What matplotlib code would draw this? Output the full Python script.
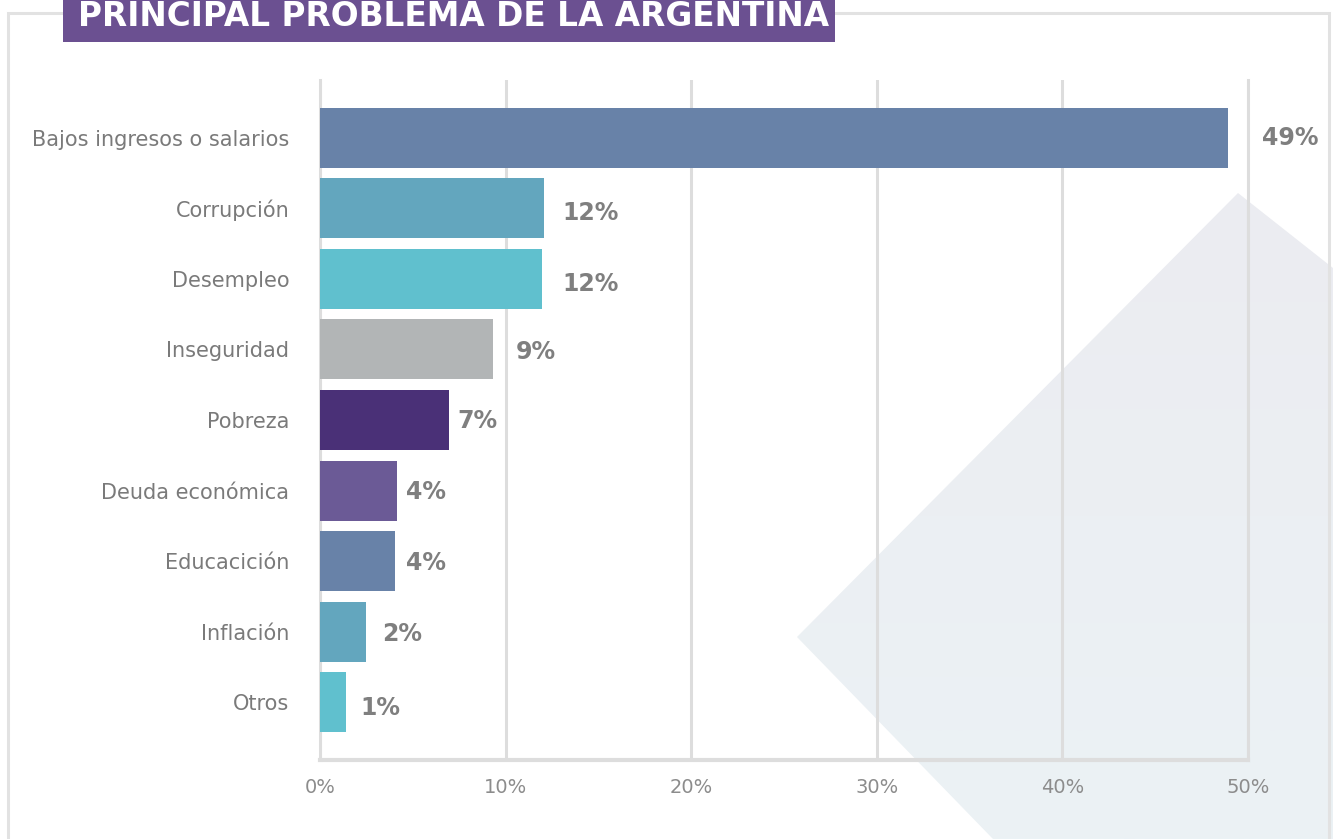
import matplotlib
matplotlib.use('Agg')
import matplotlib.pyplot as plt
import numpy as np
from matplotlib.colors import LinearSegmentedColormap
from matplotlib.patches import Polygon, Rectangle

plt.rcParams['font.family'] = ['DejaVu Sans']

# Data (percent of respondents)
categories = ['Bajos ingresos o salarios', 'Corrupción', 'Desempleo', 'Inseguridad',
              'Pobreza', 'Deuda económica', 'Educacición', 'Inflación', 'Otros']
values = [48.9, 12.05, 11.95, 9.3, 6.95, 4.15, 4.05, 2.5, 1.4]
value_labels = ['49%', '12%', '12%', '9%', '7%', '4%', '4%', '2%', '1%']
bar_colors = ['#6882A8', '#63A6BE', '#60C0CE', '#B2B5B6', '#4A3077',
              '#6B5A96', '#6882A8', '#63A6BE', '#60C0CE']
xticks = [0, 10, 20, 30, 40, 50]
xtick_labels = ['0%', '10%', '20%', '30%', '40%', '50%']

# label offsets from bar end (pixels) as in the original layout
label_dx = [34, 19, 21, 23, 8, 9, 11, 16, 14]
label_dy = [0, -5, -5, -3, -1, -1, -2, -2, -6]

W, H = 1333, 839
fig = plt.figure(figsize=(W / 100, H / 100), dpi=100)
fig.patch.set_facecolor('white')


def fx(px):
    return px / W


def fy(py):
    return 1 - py / H


# background diamond decoration with a soft vertical gradient
bg = fig.add_axes([0, 0, 1, 1], zorder=0)
bg.set_xlim(0, 1)
bg.set_ylim(0, 1)
bg.axis('off')
diamond = Polygon([(fx(797), fy(637)), (fx(1238), fy(193)), (fx(1333), fy(268)),
                   (fx(1333), fy(839)), (fx(993), fy(839))],
                  closed=True, facecolor='none', edgecolor='none')
bg.add_patch(diamond)
grad_cmap = LinearSegmentedColormap.from_list('bg', ['#EBF2F5', '#ECECF1'])
grad = bg.imshow(np.linspace(0, 1, 256).reshape(-1, 1), cmap=grad_cmap,
                 extent=[0, 1, 0, fy(193)], origin='lower', aspect='auto')
grad.set_clip_path(diamond)

# outer frame
frame = Rectangle((fx(8), fy(870)), fx(1329) - fx(8), fy(13) - fy(870),
                  transform=fig.transFigure, facecolor='none', edgecolor='#E2E2E2',
                  linewidth=2.2, zorder=0.5)
fig.patches.append(frame)

# title box
title_box = Rectangle((fx(63), fy(42)), fx(835) - fx(63), fy(0) - fy(42),
                      transform=fig.transFigure, facecolor='#6B5091',
                      edgecolor='none', zorder=1)
fig.patches.append(title_box)
fig.text(fx(454), fy(16), 'PRINCIPAL PROBLEMA DE LA ARGENTINA', color='white',
         fontsize=23.6, fontweight='bold', ha='center', va='center', zorder=2)

ax = fig.add_axes([fx(320), fy(760), fx(1248) - fx(320), fy(80) - fy(760)])
ax.set_facecolor('none')
ax.set_zorder(1)

y = list(range(len(categories)))
ax.barh(y, values, height=0.85, color=bar_colors, zorder=3)

ax.set_xlim(0, 50)
ax.set_ylim(len(categories) - 1 + 0.82, -0.82)

ax.set_xticks(xticks)
ax.set_xticklabels(xtick_labels, fontsize=14, color='#8C8C8C')
ax.set_yticks(y)
ax.set_yticklabels(categories, fontsize=15, color='#7A7A7A')
ax.tick_params(axis='x', length=0, pad=13)
ax.tick_params(axis='y', length=0, pad=22)

ax.grid(axis='x', color='#DDDDDD', linewidth=2.2, zorder=1)
ax.spines['top'].set_visible(False)
for side in ['left', 'right', 'bottom']:
    ax.spines[side].set_color('#DDDDDD')
    ax.spines[side].set_linewidth(2.2)
ax.spines['bottom'].set_linewidth(3)

for i, (v, lab) in enumerate(zip(values, value_labels)):
    ax.annotate(lab, xy=(v, i), xytext=(label_dx[i] * 0.72, label_dy[i] * 0.72),
                textcoords='offset points', ha='left', va='center',
                fontsize=17, fontweight='bold', color='#7F7F7F', zorder=4)

plt.savefig('out.png', dpi=100)
plt.close()
